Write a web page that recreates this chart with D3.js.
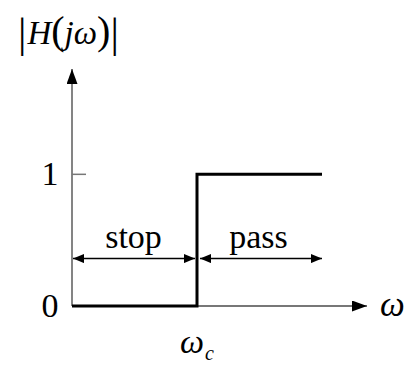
<!DOCTYPE html>
<html lang="en">
<head>
    <meta charset="UTF-8">
    <title>Ideal high-pass filter</title>
    <script src="https://d3js.org/d3.v7.min.js"></script>
    <style>
        body { margin: 0; background: #fff; }
        text { font-family: "Liberation Serif", "Times New Roman", serif; fill: #000; }
    </style>
</head>
<body>
    <svg id="chart" width="408" height="365"></svg>

    <script>
        // Step response of the ideal high-pass filter
        const omega = [0, 1, 1, 2];
        const gain = [0, 0, 1, 1];
        const yTicks = [0, 1];
        const bands = [
            { name: "stop", from: 0, to: 1 },
            { name: "pass", from: 1, to: 2 }
        ];

        const svg = d3.select("#chart");

        const x = d3.scaleLinear().domain([0, 2.36]).range([72, 367]);
        const y = d3.scaleLinear().domain([0, 1.8]).range([306, 69]);

        const defs = svg.append("defs");
        // arrow markers
        function marker(id, w, h, color) {
            defs.append("marker")
                .attr("id", id)
                .attr("viewBox", `0 0 ${w} ${h}`)
                .attr("refX", w)
                .attr("refY", h / 2)
                .attr("markerUnits", "userSpaceOnUse")
                .attr("markerWidth", w)
                .attr("markerHeight", h)
                .attr("orient", "auto-start-reverse")
                .append("path")
                .attr("d", `M0,0L${w},${h / 2}L0,${h}Z`)
                .attr("fill", color);
        }
        marker("axisArrow", 15, 11, "#000");
        marker("bandArrow", 11, 9, "#000");

        // axes
        svg.append("line")
            .attr("x1", x(0)).attr("y1", y(0))
            .attr("x2", x(2.36)).attr("y2", y(0))
            .attr("stroke", "#777").attr("stroke-width", 1.8)
            .attr("marker-end", "url(#axisArrow)");
        svg.append("line")
            .attr("x1", x(0)).attr("y1", y(0))
            .attr("x2", x(0)).attr("y2", y(1.8))
            .attr("stroke", "#777").attr("stroke-width", 1.8)
            .attr("marker-end", "url(#axisArrow)");

        // ticks + labels on y
        svg.selectAll(".ytick")
            .data(yTicks.filter(d => d > 0))
            .enter().append("line")
            .attr("x1", x(0)).attr("x2", x(0) + 14)
            .attr("y1", d => y(d)).attr("y2", d => y(d))
            .attr("stroke", "#777").attr("stroke-width", 1.5);
        svg.selectAll(".ylab")
            .data(yTicks)
            .enter().append("text")
            .attr("x", 50)
            .attr("y", d => y(d) + 11)
            .attr("text-anchor", "middle")
            .style("font-size", "34px")
            .text(d => d);

        // the response
        const line = d3.line()
            .x((d, i) => x(omega[i]))
            .y(d => y(d));
        svg.append("path")
            .datum(gain)
            .attr("d", line)
            .attr("fill", "none")
            .attr("stroke", "#000")
            .attr("stroke-width", 3);

        // band arrows
        const bandY = 0.36;
        svg.selectAll(".band")
            .data(bands)
            .enter().append("line")
            .attr("x1", (d, i) => x(d.from) + (i ? 3 : 1))
            .attr("x2", (d, i) => x(d.to) - (i ? 0 : 2))
            .attr("y1", y(bandY)).attr("y2", y(bandY))
            .attr("stroke", "#000").attr("stroke-width", 1.5)
            .attr("marker-start", "url(#bandArrow)")
            .attr("marker-end", "url(#bandArrow)");
        svg.selectAll(".bandlab")
            .data(bands)
            .enter().append("text")
            .attr("x", d => x((d.from + d.to) / 2) - 1)
            .attr("y", y(bandY) - 11)
            .attr("text-anchor", "middle")
            .style("font-size", "34px")
            .text(d => d.name);

        // axis labels
        svg.append("text")
            .attr("x", 380).attr("y", 316)
            .style("font-size", "35px").style("font-style", "italic")
            .text("ω");

        const wc = svg.append("text")
            .attr("x", x(1) - 17).attr("y", 353)
            .style("font-size", "34px").style("font-style", "italic");
        wc.append("tspan").text("ω");
        wc.append("tspan").attr("dy", 7).attr("dx", 1).style("font-size", "20px").text("c");

        const h = svg.append("text")
            .attr("x", 18).attr("y", 44)
            .style("font-size", "33px");
        h.append("tspan").style("font-size", "42px").attr("dy", 3).text("|");
        h.append("tspan").attr("dy", -3).attr("dx", 1).style("font-style", "italic").text("H");
        h.append("tspan").style("font-size", "40px").text("(");
        h.append("tspan").style("font-style", "italic").text("j");
        h.append("tspan").style("font-style", "italic").text("ω");
        h.append("tspan").style("font-size", "40px").text(")");
        h.append("tspan").style("font-size", "42px").attr("dy", 3).text("|");
    </script>
</body>
</html>
